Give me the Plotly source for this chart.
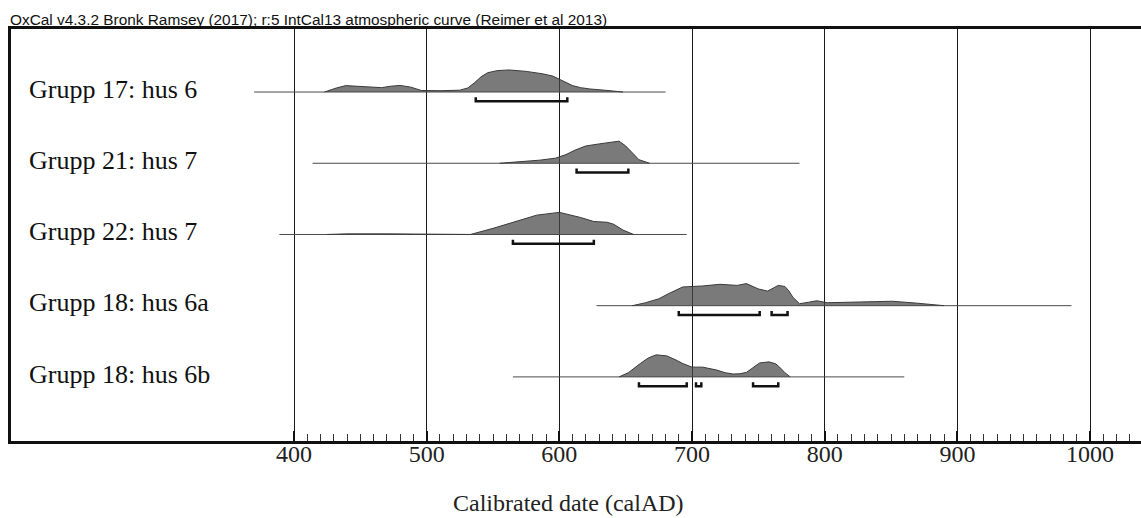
import plotly.graph_objects as go

# Etiketter for varje grupp (uppifran och ned)
groups = ['Grupp 17: hus 6', 'Grupp 21: hus 7', 'Grupp 22: hus 7',
          'Grupp 18: hus 6a', 'Grupp 18: hus 6b']

# Kalibrerade sannolikhetsfordelningar (ar e.Kr. / relativ sannolikhet)
g17_years = [423, 432, 439, 450, 460, 466, 473, 480, 488, 496, 510, 525, 531, 536,
             541, 546, 553, 562, 575, 587, 595, 600, 605, 610, 616, 623, 635, 648]
g17_prob = [0, 4, 6.3, 5.7, 4.8, 4.3, 5.7, 6.5, 4.8, 1.5, 1.3, 1.8, 4, 9,
            15, 19, 21, 21.7, 20.3, 18, 15.7, 12.3, 9, 6.3, 4.3, 3, 1.7, 0]

g21_years = [555, 570, 585, 597, 605, 612, 620, 630, 640, 645, 650, 653, 657, 660, 668]
g21_prob = [0, 1.5, 3, 5, 8.5, 13, 17, 19, 20.5, 21.7, 17, 13, 8, 3.5, 0]

g22_years = [425, 440, 470, 490, 500, 533, 550, 568, 583, 600, 608, 616, 626, 636,
             641, 648, 656]
g22_prob = [0, 0.6, 0.6, 0.5, 0.1, 0, 6, 12.7, 19, 21.7, 19.5, 16.7, 12.7, 12,
            10, 4.3, 0]

g18a_years = [655, 665, 675, 682, 693, 708, 721, 734, 741, 750, 757, 765, 770, 773,
              776, 781, 788, 794, 802, 820, 835, 851, 870, 890]
g18a_prob = [0, 3, 7, 12, 19, 20, 21.7, 20.6, 22.4, 17, 14.8, 20.6, 19.5, 15,
             8.6, 2, 3.5, 5, 3, 3.5, 4, 4.5, 2.5, 0]

g18b_years = [645, 652, 661, 667, 673, 681, 688, 693, 700, 708, 718, 725, 731, 736,
              741, 746, 751, 758, 763, 766, 770, 774]
g18b_prob = [0, 4, 12.7, 18, 21, 20, 16, 12.7, 9.3, 9.3, 6.7, 4, 2.7, 3,
             4.3, 9, 13.3, 14.3, 12.5, 9.3, 4, 0]

# Utstrackning av den tunna linjen for varje grupp
line_start = [370, 414, 389, 628, 565]
line_end = [680, 781, 696, 986, 860]

# 95.4% intervall
ranges = [[(537, 606)],
          [(613, 652)],
          [(565, 626)],
          [(690, 751), (760, 772)],
          [(660, 696), (703, 707), (746, 765)]]

tick_vals = [400, 500, 600, 700, 800, 900, 1000]
minor_vals = [v for v in range(410, 1040, 10) if v % 100 != 0]

years_all = [g17_years, g21_years, g22_years, g18a_years, g18b_years]
prob_all = [g17_prob, g21_prob, g22_prob, g18a_prob, g18b_prob]

serif = 'Liberation Serif, Times New Roman, serif'
peak = 0.31  # hojd pa fordelningens topp, i radenheter

fig = go.Figure()

for i, name in enumerate(groups):
    # tunn linje
    fig.add_trace(go.Scatter(x=[line_start[i], line_end[i]], y=[i, i],
                             mode='lines', line=dict(color='#4a4a4a', width=1),
                             hoverinfo='skip', showlegend=False))

    # fylld fordelning
    pmax = max(prob_all[i])
    fig.add_trace(go.Scatter(x=years_all[i],
                             y=[i - peak * p / pmax for p in prob_all[i]],
                             mode='lines', fill='toself',
                             fillcolor='rgba(70,70,70,0.72)',
                             line=dict(color='#3a3a3a', width=1),
                             name=name, showlegend=False))

    # intervallklamrar
    for a, b in ranges[i]:
        fig.add_trace(go.Scatter(x=[a, a, b, b],
                                 y=[i + 0.075, i + 0.13, i + 0.13, i + 0.075],
                                 mode='lines', line=dict(color='#111', width=2.5),
                                 hoverinfo='skip', showlegend=False))

    fig.add_annotation(x=0.0142, xref='paper', y=i - 0.04, yref='y',
                       text=name, showarrow=False, xanchor='left',
                       yanchor='middle', font=dict(family=serif, size=26,
                                                   color='#111'))

# tom trace for sma streck pa x-axeln
fig.add_trace(go.Scatter(x=[], y=[], xaxis='x2', showlegend=False))

fig.update_layout(
    width=1141, height=518,
    margin=dict(l=11, r=0, t=29, b=77),
    paper_bgcolor='white', plot_bgcolor='white',
    title=dict(text='OxCal v4.3.2 Bronk Ramsey (2017); r:5 IntCal13 atmospheric curve (Reimer et al 2013)',
               x=10 / 1141, xanchor='left', xref='container', y=0.962, yanchor='middle',
               font=dict(family='Liberation Sans Narrow, Arial Narrow, Liberation Sans, Arial',
                         size=15.4, color='#111')),
    xaxis=dict(range=[186.7, 1038.4], tickvals=tick_vals, showgrid=True,
               gridcolor='#1a1a1a', gridwidth=1.3, zeroline=False,
               showline=True, linecolor='#111', linewidth=3, mirror=True,
               ticks='inside', ticklen=10, tickwidth=2, tickcolor='#111',
               ticklabelstandoff=-11,
               tickfont=dict(family=serif, size=24, color='#222')),
    xaxis2=dict(range=[186.7, 1038.4], overlaying='x', anchor='y',
                side='bottom', tickvals=minor_vals, ticks='inside',
                ticklen=7, tickwidth=1, tickcolor='#333',
                showticklabels=False, showgrid=False, zeroline=False,
                showline=False),
    yaxis=dict(range=[4.90, -0.885], showgrid=False, zeroline=False,
               showticklabels=False, showline=True, linecolor='#111',
               linewidth=3, mirror=False, ticks=''),
    annotations=list(fig.layout.annotations) + [
        dict(text='Calibrated date (calAD)', x=0.493, xref='paper',
             y=-0.150, yref='paper', showarrow=False, xanchor='center',
             yanchor='middle', font=dict(family=serif, size=24, color='#222'))
    ]
)

# sidans standardmarginal tas bort sa att figuren borjar i hornet
fig.write_html("out.html", config={'displayModeBar': False},
               post_script="document.body.style.margin='0';")
